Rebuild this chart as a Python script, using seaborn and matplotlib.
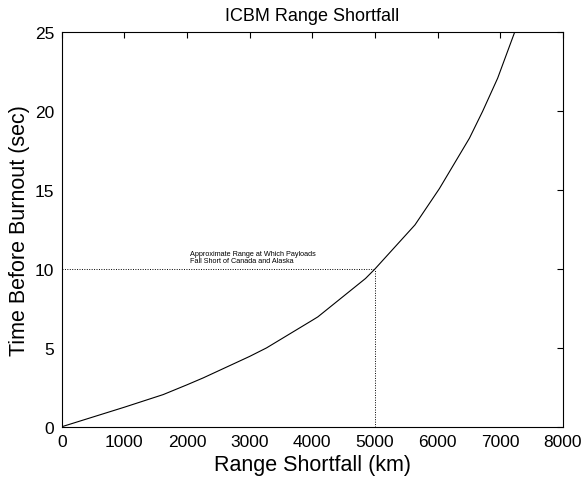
import matplotlib.pyplot as plt
import seaborn as sns
import pandas as pd

# values
shortfall_km = [0, 1000, 1620, 2000, 2260, 3000, 3270, 4000, 4090, 4850, 5000,
                5640, 6030, 6510, 6720, 6960, 7230]
time_sec = [0, 1.24, 2.04, 2.66, 3.1, 4.46, 5.0, 6.75, 6.97, 9.4, 10.0,
            12.8, 15.1, 18.3, 20.0, 22.1, 25.0]

marker_range = 5000
marker_time = 10
x_ticks = [0, 1000, 2000, 3000, 4000, 5000, 6000, 7000, 8000]
y_ticks = [0, 5, 10, 15, 20, 25]


def main():
    sns.set_theme(style="white", rc={"text.color": "black", "axes.labelcolor": "black"})
    plt.rcParams['font.family'] = ['Liberation Sans', 'DejaVu Sans']

    df = pd.DataFrame({"Range Shortfall (km)": shortfall_km,
                       "Time Before Burnout (sec)": time_sec})

    fig = plt.figure(figsize=(5.82, 4.85), dpi=100)
    ax = fig.add_axes([0.106, 0.118, 0.861, 0.813])

    sns.lineplot(data=df, x="Range Shortfall (km)", y="Time Before Burnout (sec)",
                 color="black", linewidth=0.8, ax=ax, sort=False)

    # dotted guide lines to the 5000 km point
    ax.plot([0, marker_range], [marker_time, marker_time], color="black",
            linestyle=(0, (1, 1.5)), linewidth=0.7)
    ax.plot([marker_range, marker_range], [0, marker_time], color="black",
            linestyle=(0, (1, 1.5)), linewidth=0.7)

    ax.text(2050, 10.3, "Approximate Range at Which Payloads\nFall Short of Canada and Alaska",
            fontsize=5.2, ha="left", va="bottom", linespacing=1.0, color="black")

    ax.set_xlim(0, 8000)
    ax.set_ylim(0, 25)
    ax.set_xticks(x_ticks)
    ax.set_yticks(y_ticks)
    ax.tick_params(direction="in", length=4, width=0.8, top=True, right=True,
                   labelsize=12.5, colors="black", pad=5.5)
    for s in ax.spines.values():
        s.set_color("black")
        s.set_linewidth(0.8)

    ax.set_xlabel("Range Shortfall (km)", fontsize=15.5, labelpad=3)
    ax.set_ylabel("Time Before Burnout (sec)", fontsize=15.5, labelpad=3)
    ax.set_title("ICBM Range Shortfall", fontsize=13, pad=9, color="black")

    plt.savefig("out.png", dpi=100)


if __name__ == "__main__":
    main()
